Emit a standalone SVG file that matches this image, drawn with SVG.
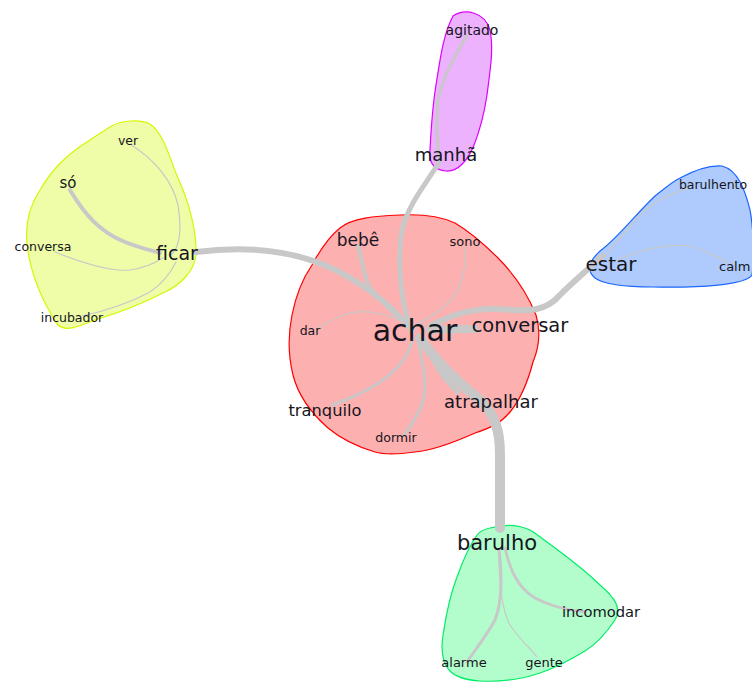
<svg xmlns="http://www.w3.org/2000/svg" width="752" height="683" viewBox="0 0 752 683">
<style>
.hull{stroke-width:1.2}
.e{fill:none;stroke:#c8c8c8;stroke-linecap:round}
text{font-family:"DejaVu Sans","Liberation Sans",sans-serif;fill:#151520;text-anchor:middle}
</style>
<rect width="752" height="683" fill="#ffffff"/>
<g id="hulls">
<path id="hull-ficar" class="hull" fill="#effda9" stroke="#d8f500" d="M110,127 C120,120 140,119 150,124 C165,135 170,160 178,178 C188,200 197,230 196,255 C194,272 180,285 165,292 C140,305 115,314 95,320 C80,326 65,333 57,324 C45,305 30,275 27,243 C25,222 30,205 40,190 C52,170 62,160 78,148 C90,140 100,133 110,127 Z"/>
<path id="hull-manha" class="hull" fill="#ecb2fd" stroke="#dd00ff" d="M453,16 C465,8 485,12 490,30 C494,50 490,70 487,95 C484,115 480,130 474,145 C468,160 458,172 446,171 C434,170 428,162 430,150 C431,130 432,110 436,85 C440,60 443,35 453,16 Z"/>
<path id="hull-estar" class="hull" fill="#afcbfd" stroke="#1a66ff" d="M680,178 C695,170 708,165 722,166 C738,170 745,190 750,210 C754,230 754,260 752,275 C745,285 700,288 653,287 C630,287 605,285 595,278 C585,270 590,258 605,247 C620,235 637,213 655,196 C665,188 672,182 680,178 Z"/>
<path id="hull-achar" class="hull" fill="#fdb0b0" stroke="#ff0000" d="M340,228 C352,218 375,216 400,215 C420,214 440,216 455,223 C475,235 488,248 498,258 C515,275 528,295 536,315 C542,335 538,350 533,362 C527,385 520,400 510,412 C500,424 490,428 475,433 C455,442 435,450 415,452 C400,454 385,455 375,452 C355,446 340,438 328,428 C310,412 298,395 293,375 C288,355 288,335 292,315 C296,295 303,278 312,265 C320,250 330,236 340,228 Z"/>
<path id="hull-barulho" class="hull" fill="#b3fdcd" stroke="#00ee66" d="M490,528 C505,524 520,525 532,531 C555,548 580,565 600,585 C615,598 622,608 615,620 C605,635 595,645 585,651 C570,660 555,668 540,673 C520,680 500,682 480,681 C465,680 455,677 449,670 C441,660 441,648 443,635 C446,615 450,595 457,577 C463,560 470,545 477,535 C481,530 485,529 490,528 Z"/>
</g>
<g id="connectors">
<path class="e" stroke-width="6" d="M196,252 C250,245 300,250 345,275 C375,292 395,310 412,330"/>
<path class="e" stroke-width="4" d="M70,190 C85,215 100,232 125,242 C140,248 150,250 160,253"/>
<path class="e" stroke-width="1.2" d="M130,144 C155,160 172,180 178,205 C182,230 180,248 170,256"/>
<path class="e" stroke-width="1.2" d="M55,252 C80,262 110,272 130,270 C145,268 155,263 163,258"/>
<path class="e" stroke-width="1.2" d="M82,316 C110,310 135,300 150,292 C165,282 172,270 176,262"/>
<path class="e" stroke-width="3" d="M440,162 C436,140 437,120 438,100 C442,80 455,55 467,36"/>
<path class="e" stroke-width="5" d="M438,164 C425,185 408,205 402,230 C398,255 400,280 403,300 C406,315 410,325 412,332"/>
<path class="e" stroke-width="6" d="M430,326 C450,316 465,310 490,309 C515,308 540,318 560,295 C575,280 590,268 602,256"/>
<path class="e" stroke-width="8" d="M430,330 C445,329 460,329 474,329"/>
<path class="e" stroke-width="10" d="M420,338 C435,360 455,380 480,400 C495,415 500,430 500,455 C500,485 500,505 500,528"/>
<path class="e" stroke-width="5" d="M425,342 C433,362 445,380 458,392"/>
<path class="e" stroke-width="1.2" d="M600,262 C615,245 630,225 645,210 C660,198 675,192 690,188"/>
<path class="e" stroke-width="1.2" d="M612,262 C640,250 665,243 690,246 C705,250 720,258 732,265"/>
<path class="e" stroke-width="4" d="M410,328 C395,315 380,300 370,288 C363,275 362,258 358,246"/>
<path class="e" stroke-width="1.5" d="M415,325 C435,315 450,305 458,290 C465,275 466,260 465,247"/>
<path class="e" stroke-width="1.2" d="M318,328 C335,318 350,310 370,312 C390,315 402,320 412,328"/>
<path class="e" stroke-width="3" d="M332,405 C360,395 380,385 395,370 C405,360 410,350 412,340"/>
<path class="e" stroke-width="3" d="M404,435 C415,420 425,405 425,385 C424,365 420,352 418,342"/>
<path class="e" stroke-width="3" d="M505,548 C510,570 518,588 535,598 C550,606 565,610 585,612"/>
<path class="e" stroke-width="3" d="M499,550 C502,575 503,600 495,620 C485,638 475,650 467,662"/>
<path class="e" stroke-width="1.2" d="M499,553 C499,580 502,610 510,625 C520,640 532,650 537,657"/>
</g>
<g id="node-achar"><text x="415" y="341" font-size="30">achar</text></g>
<g id="node-ficar"><text x="177" y="260" font-size="19">ficar</text></g>
<g id="node-so"><text x="68" y="188" font-size="15">só</text></g>
<g id="node-ver"><text x="128" y="145" font-size="12.5">ver</text></g>
<g id="node-conversa"><text x="43" y="251" font-size="12.5">conversa</text></g>
<g id="node-incubador"><text x="72" y="322" font-size="12.5">incubador</text></g>
<g id="node-agitado"><text x="472" y="35" font-size="14">agitado</text></g>
<g id="node-manha"><text x="446" y="161" font-size="18">manhã</text></g>
<g id="node-barulhento"><text x="713" y="189" font-size="12.5">barulhento</text></g>
<g id="node-estar"><text x="611" y="271" font-size="20">estar</text></g>
<g id="node-calm"><text x="719" y="271" font-size="13" style="text-anchor:start">calm</text></g>
<g id="node-bebe"><text x="358" y="246" font-size="17">bebê</text></g>
<g id="node-sono"><text x="465" y="246" font-size="13">sono</text></g>
<g id="node-dar"><text x="310" y="335" font-size="12.5">dar</text></g>
<g id="node-conversar"><text x="520" y="332" font-size="19.5">conversar</text></g>
<g id="node-tranquilo"><text x="325" y="416" font-size="16.3">tranquilo</text></g>
<g id="node-atrapalhar"><text x="491" y="408" font-size="18">atrapalhar</text></g>
<g id="node-dormir"><text x="396" y="442" font-size="12.6">dormir</text></g>
<g id="node-barulho"><text x="497" y="550" font-size="21">barulho</text></g>
<g id="node-incomodar"><text x="601" y="617" font-size="14.7">incomodar</text></g>
<g id="node-alarme"><text x="464" y="667" font-size="13">alarme</text></g>
<g id="node-gente"><text x="544" y="667" font-size="13">gente</text></g>
</svg>
